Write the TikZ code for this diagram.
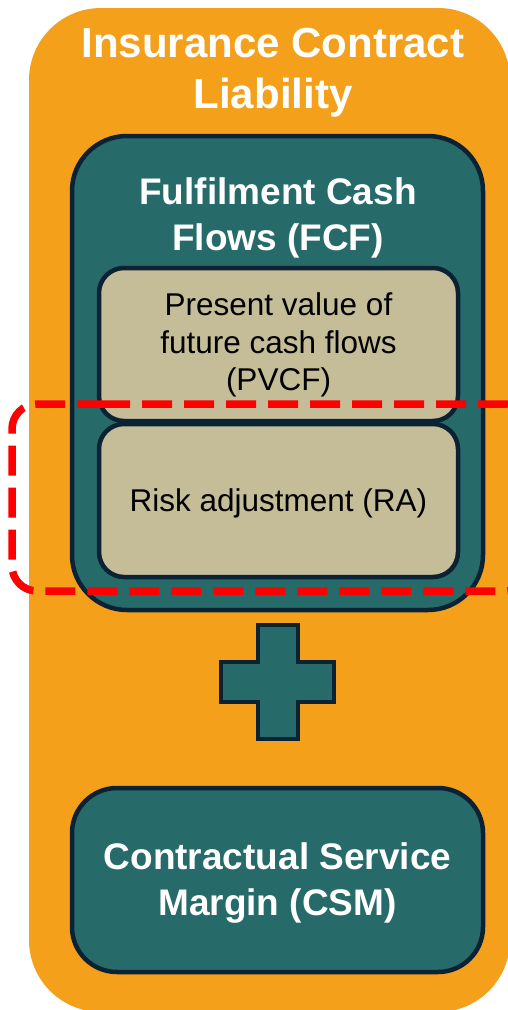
\documentclass[tikz,border=0pt]{standalone}
\usepackage{fontspec}
\setmainfont{Liberation Sans}
\definecolor{orangebg}{HTML}{F4A01A}
\definecolor{tealbox}{HTML}{276A6A}
\definecolor{navyline}{HTML}{0A2233}
\definecolor{beigebox}{HTML}{C5BD98}
\definecolor{reddash}{HTML}{FF0000}
\tikzset{
  tealnode/.style={draw=navyline,line width=4.5pt,fill=tealbox,inner sep=0pt},
  beigenode/.style={draw=navyline,line width=4.5pt,fill=beigebox,rounded corners=25pt,
     minimum width=359pt,minimum height=153pt,inner sep=0pt},
  whitetitle/.style={text=white,font=\bfseries\fontsize{42}{51}\selectfont,align=center},
  whitesub/.style={text=white,font=\bfseries\fontsize{37}{46}\selectfont,align=center},
  blacktext/.style={text=black,font=\fontsize{31.5}{37.5}\selectfont,align=center},
}
\begin{document}
\begin{tikzpicture}[x=1pt,y=-1pt]
\useasboundingbox (0,0) rectangle (508,1010);
\clip (0,0) rectangle (508,1010);
\node[fill=orangebg,rounded corners=72pt,minimum width=481pt,minimum height=1004pt,inner sep=0pt] (icl) at (269.5,510) {};
\node[whitetitle] (icltitle) at (273,73) {Insurance Contract\\Liability};
\node[tealnode,rounded corners=55pt,minimum width=411pt,minimum height=474pt] (fcf) at (277.5,373) {};
\node[whitesub] (fcftitle) at (278,218) {Fulfilment Cash\\Flows (FCF)};
\node[beigenode] (pvcf) at (278.5,344.5) {};
\node[blacktext] (pvcftext) at (278.5,345) {Present value of\\future cash flows\\(PVCF)};
\node[beigenode] (ra) at (278.5,500.5) {};
\node[blacktext] (ratext) at (278.5,503.5) {Risk adjustment (RA)};
\draw[navyline,line width=4.5pt,fill=tealbox]
  (258,625) -- (298,625) -- (298,662) -- (334,662) -- (334,702) -- (298,702)
  -- (298,739) -- (258,739) -- (258,702) -- (221,702) -- (221,662) -- (258,662) -- cycle;
\node[tealnode,rounded corners=45pt,minimum width=411pt,minimum height=184pt] (csm) at (277.5,880) {};
\node[whitesub] (csmtext) at (277.5,883) {Contractual Service\\Margin (CSM)};
\draw[reddash,line width=7.5pt,dash pattern=on 30pt off 12pt,rounded corners=25pt]
  (100,404) -- (530,404) -- (530,591) -- (12,591) -- (12,404) -- (100,404);
\end{tikzpicture}
\end{document}
